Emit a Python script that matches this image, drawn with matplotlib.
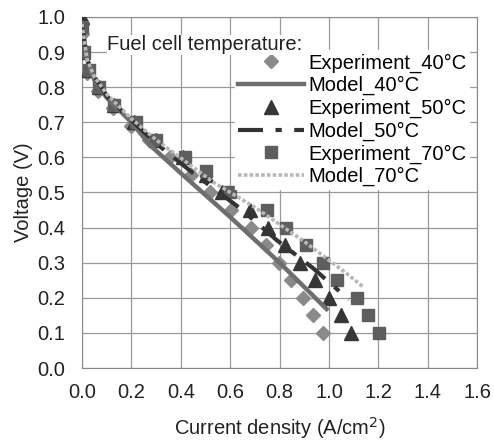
import numpy as np
import matplotlib
matplotlib.use("Agg")
import matplotlib.pyplot as plt

plt.rcParams['font.family'] = ['Liberation Sans', 'DejaVu Sans']

# measured polarization data (current density A/cm2, voltage V)
exp40_i = [0.0, 0.002, 0.02, 0.065, 0.125, 0.20, 0.27, 0.355, 0.443, 0.517, 0.605, 0.686, 0.744, 0.798, 0.848, 0.895, 0.936, 0.974]
exp40_v = [0.98, 0.95, 0.84, 0.79, 0.74, 0.69, 0.65, 0.60, 0.55, 0.50, 0.45, 0.40, 0.35, 0.30, 0.25, 0.20, 0.15, 0.10]

exp50_i = [0.0, 0.005, 0.025, 0.068, 0.128, 0.21, 0.30, 0.41, 0.50, 0.565, 0.679, 0.753, 0.821, 0.884, 0.942, 1.0, 1.048, 1.09]
exp50_v = [1.0, 0.90, 0.85, 0.80, 0.75, 0.70, 0.65, 0.60, 0.55, 0.50, 0.45, 0.40, 0.35, 0.30, 0.25, 0.20, 0.15, 0.10]

exp70_i = [0.0, 0.008, 0.027, 0.07, 0.13, 0.217, 0.30, 0.416, 0.504, 0.598, 0.747, 0.825, 0.907, 0.976, 1.032, 1.114, 1.157, 1.201]
exp70_v = [0.97, 0.90, 0.85, 0.80, 0.75, 0.70, 0.65, 0.60, 0.56, 0.50, 0.45, 0.40, 0.35, 0.30, 0.25, 0.20, 0.15, 0.10]

# model curves
mod40_i = [0.0, 0.02, 0.05, 0.1, 0.2, 0.275, 0.4, 0.6, 0.8, 0.99]
mod40_v = [0.98, 0.88, 0.82, 0.77, 0.70, 0.635, 0.555, 0.43, 0.30, 0.168]

mod50_i = [0.0, 0.02, 0.05, 0.1, 0.2, 0.3, 0.45, 0.64, 0.787, 0.936, 1.08]
mod50_v = [0.98, 0.88, 0.83, 0.775, 0.705, 0.64, 0.555, 0.455, 0.365, 0.284, 0.195]

mod70_i = [0.0, 0.02, 0.05, 0.1, 0.2, 0.3, 0.53, 0.706, 0.9, 1.07, 1.14]
mod70_v = [0.98, 0.88, 0.83, 0.78, 0.71, 0.65, 0.53, 0.455, 0.36, 0.27, 0.23]

fs = 14.5

fig = plt.figure(figsize=(4.94, 4.45), dpi=100)
ax = fig.add_axes([0.166, 0.173, 0.800, 0.789])

ax.plot(exp40_i, exp40_v, linestyle='none', marker='D', ms=7.5, color='#8a8a8a',
        mec='#8a8a8a', label='Experiment_40°C', zorder=3)
ax.plot(mod40_i, mod40_v, color='#6e6e6e', lw=3.2, label='Model_40°C', zorder=4)
ax.plot(exp50_i, exp50_v, linestyle='none', marker='^', ms=9.5, color='#363636',
        label='Experiment_50°C', zorder=3)
ax.plot(mod50_i, mod50_v, color='#333333', lw=3, dashes=(6, 3, 1.5, 3),
        label='Model_50°C', zorder=4)
ax.plot(exp70_i, exp70_v, linestyle='none', marker='s', ms=9, color='#5e5e5e',
        label='Experiment_70°C', zorder=3)
ax.plot(mod70_i, mod70_v, color='#b8b8b8', lw=2.6, linestyle=(0, (1, 0.6)),
        label='Model_70°C', zorder=4)

ax.set_xlim(0, 1.6)
ax.set_ylim(0, 1.0)
ax.set_xticks(np.arange(0, 1.61, 0.2))
ax.set_yticks(np.arange(0, 1.01, 0.1))
ax.xaxis.set_major_formatter(matplotlib.ticker.FormatStrFormatter('%.1f'))
ax.yaxis.set_major_formatter(matplotlib.ticker.FormatStrFormatter('%.1f'))
ax.grid(True, color='#9a9a9a', lw=0.9)
ax.set_axisbelow(True)
ax.tick_params(length=0, labelsize=fs, colors='#222222')
ax.tick_params(axis='x', pad=11)
ax.tick_params(axis='y', pad=12)
for s in ax.spines.values():
    s.set_color('#8a8a8a')

ax.set_xlabel('Current density (A/cm$^2$)', fontsize=fs, color='#222222', labelpad=9)
ax.set_ylabel('Voltage (V)', fontsize=fs, color='#222222', labelpad=3)

leg = ax.legend(loc='upper right', bbox_to_anchor=(0.98, 0.905), numpoints=1,
                fontsize=fs, frameon=True, fancybox=False, handlelength=3.3,
                handletextpad=0.2, labelspacing=0.17, borderpad=0.15,
                borderaxespad=0)
leg.get_frame().set_facecolor('white')
leg.get_frame().set_edgecolor('white')
leg.get_frame().set_alpha(1)
leg.set_zorder(5)

ax.text(0.064, 0.92, 'Fuel cell temperature:', transform=ax.transAxes,
        fontsize=fs, color='#222222', va='center', ha='left', zorder=6,
        bbox=dict(facecolor='white', edgecolor='none', pad=0.5))

fig.savefig('out.png', dpi=100)
